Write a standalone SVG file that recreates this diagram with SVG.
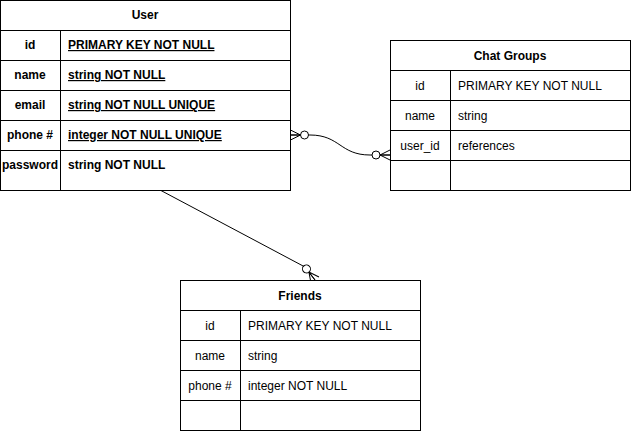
<svg xmlns="http://www.w3.org/2000/svg" width="631" height="431" viewBox="0 0 631 431">
<style>
.box{fill:#fff;stroke:#000;stroke-width:1}
.ln{stroke:#000;stroke-width:1;fill:none}
text{font-family:"Liberation Sans",Arial,sans-serif;font-size:12px;fill:#000}
.b{font-weight:bold}
.c{text-anchor:middle}
.u{text-decoration:underline}
.edge{stroke:#000;stroke-width:1;fill:none}
</style>
<defs>
<marker id="zm" markerUnits="userSpaceOnUse" viewBox="-20 -8 22 16" refX="0" refY="0" markerWidth="22" markerHeight="16" orient="auto-start-reverse" overflow="visible">
<path d="M-10,0 L0,-5 M-10,0 L0,0 M-10,0 L0,5" stroke="#000" fill="none"/>
<circle cx="-14" cy="0" r="4" fill="#fff" stroke="#000"/>
</marker>
</defs>
<g id="connectors">
<path class="edge" d="M290.5,135 L310,135 C340,135 340,155 370,155 L390,155" marker-start="url(#zm)" marker-end="url(#zm)"/>
<path class="edge" d="M160,190 L305,267 L315,280" marker-end="url(#zm)"/>
</g>
<g id="user">
<rect class="box" x="0.5" y="0.5" width="290" height="190"/>
<path class="ln" d="M0.5,30.5H290.5M0.5,60.5H290.5M0.5,90.5H290.5M0.5,120.5H290.5M0.5,150.5H290.5M60.5,30.5V190.5"/>
<text class="b c" x="145" y="19">User</text>
<text class="b c" x="30" y="49">id</text>
<text class="b u" x="68" y="49">PRIMARY KEY NOT NULL </text>
<text class="b c" x="30" y="79">name</text>
<text class="b u" x="68" y="79">string NOT NULL</text>
<text class="b c" x="30" y="109">email</text>
<text class="b u" x="68" y="109">string NOT NULL UNIQUE</text>
<text class="b c" x="30" y="139">phone #</text>
<text class="b u" x="68" y="139">integer NOT NULL UNIQUE</text>
<text class="b c" x="30" y="169">password</text>
<text class="b" x="68" y="169">string NOT NULL</text>
</g>
<g id="chat-groups">
<rect class="box" x="390.5" y="40.5" width="240" height="150"/>
<path class="ln" d="M390.5,70.5H630.5M390.5,100.5H630.5M390.5,130.5H630.5M390.5,160.5H630.5M450.5,70.5V190.5"/>
<text class="b c" x="510" y="60">Chat Groups</text>
<text class="c" x="420" y="90">id</text>
<text x="458" y="90">PRIMARY KEY NOT NULL</text>
<text class="c" x="420" y="120">name</text>
<text x="458" y="120">string</text>
<text class="c" x="420" y="150">user_id</text>
<text x="458" y="150">references</text>
</g>
<g id="friends">
<rect class="box" x="180.5" y="280.5" width="240" height="150"/>
<path class="ln" d="M180.5,310.5H420.5M180.5,340.5H420.5M180.5,370.5H420.5M180.5,400.5H420.5M240.5,310.5V430.5"/>
<text class="b c" x="300" y="300">Friends</text>
<text class="c" x="210" y="330">id</text>
<text x="248" y="330">PRIMARY KEY NOT NULL</text>
<text class="c" x="210" y="360">name</text>
<text x="248" y="360">string</text>
<text class="c" x="210" y="390">phone #</text>
<text x="248" y="390">integer NOT NULL</text>
</g>
</svg>
